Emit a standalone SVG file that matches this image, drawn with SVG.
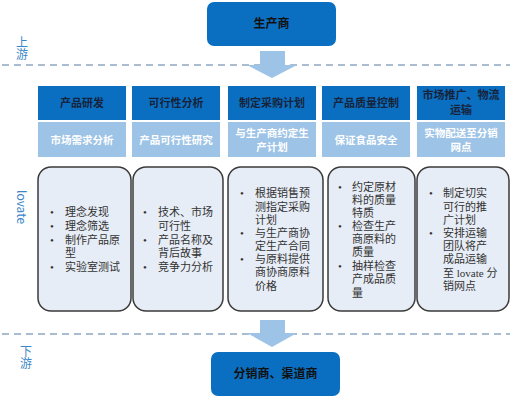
<svg xmlns="http://www.w3.org/2000/svg" width="512" height="403" viewBox="0 0 512 403">
<style>
.main{fill:#0b6fc1}
.hdr{fill:#0b6fc1}
.sub{fill:#9dc3e6}
.card{fill:#e7edf6;stroke:#3a3a3a;stroke-width:1.5}
.ht{font-family:"Noto Sans CJK SC","Liberation Sans",sans-serif;font-weight:bold;font-size:11px;fill:#16233a;text-anchor:middle}
.st{font-family:"Noto Sans CJK SC","Liberation Sans",sans-serif;font-weight:bold;font-size:10.5px;fill:#ffffff;text-anchor:middle}
.mt{font-family:"Noto Sans CJK SC","Liberation Sans",sans-serif;font-weight:bold;font-size:12px;fill:#111111;text-anchor:middle}
.bt{font-family:"Liberation Serif","Noto Sans CJK SC",serif;font-size:11px;fill:#333333}
.side{font-family:"Noto Sans CJK SC","Liberation Sans",sans-serif;font-size:12px;fill:#3a86c8}
.vert{writing-mode:vertical-rl}
.dash{stroke:#8ea6c0;stroke-width:1.5;stroke-dasharray:7,5;fill:none}
.arr{fill:#9dc3e6}
</style>
<g id="side-labels">
<text class="side vert" x="22" y="36">上游</text>
<text class="side vert" x="26" y="345">下游</text>
<text class="side" transform="translate(17,190) rotate(90)" font-family="Liberation Sans,sans-serif" font-size="13">lovate</text>
</g>
<g id="connectors">
<line class="dash" x1="2" y1="65" x2="510" y2="65"/>
<line class="dash" x1="2" y1="334" x2="510" y2="334"/>
<polygon class="arr" points="260,51 285,51 285,65 297,65 272,78 247,65 260,65"/>
<polygon class="arr" points="260,320 285,320 285,333 297,333 272,347 247,333 260,333"/>
</g>
<g id="producer">
<rect class="main" x="207" y="2" width="129" height="44" rx="7"/>
<text class="mt" x="271.5" y="28">生产商</text>
</g>
<g id="distributor">
<rect class="main" x="211" y="352" width="129" height="44" rx="7"/>
<text class="mt" x="275.5" y="378">分销商、渠道商</text>
</g>
<g id="col1">
<rect class="hdr" x="38" y="86" width="88" height="34"/>
<text class="ht" x="82" y="107">产品研发</text>
<rect class="sub" x="38" y="122" width="88" height="35"/>
<text class="st" x="82" y="144">市场需求分析</text>
<rect class="card" x="38" y="167" width="93" height="144" rx="13"/>
<text class="bt"><tspan x="50" y="216">•</tspan><tspan x="65" y="216">理念发现</tspan><tspan x="50" y="230">•</tspan><tspan x="65" y="230">理念筛选</tspan><tspan x="50" y="244">•</tspan><tspan x="65" y="244">制作产品原</tspan><tspan x="65" y="257">型</tspan><tspan x="50" y="271">•</tspan><tspan x="65" y="271">实验室测试</tspan></text>
</g>
<g id="col2">
<rect class="hdr" x="132" y="86" width="88" height="34"/>
<text class="ht" x="176" y="107">可行性分析</text>
<rect class="sub" x="132" y="122" width="88" height="35"/>
<text class="st" x="176" y="144">产品可行性研究</text>
<rect class="card" x="133" y="167" width="90" height="144" rx="13"/>
<text class="bt"><tspan x="143" y="216">•</tspan><tspan x="158" y="216">技术、市场</tspan><tspan x="158" y="230">可行性</tspan><tspan x="143" y="244">•</tspan><tspan x="158" y="244">产品名称及</tspan><tspan x="158" y="257">背后故事</tspan><tspan x="143" y="271">•</tspan><tspan x="158" y="271">竞争力分析</tspan></text>
</g>
<g id="col3">
<rect class="hdr" x="228" y="86" width="88" height="34"/>
<text class="ht" x="272" y="107">制定采购计划</text>
<rect class="sub" x="228" y="122" width="88" height="35"/>
<text class="st" x="272" y="137">与生产商约定生</text>
<text class="st" x="272" y="151">产计划</text>
<rect class="card" x="228" y="167" width="95" height="144" rx="13"/>
<text class="bt"><tspan x="240" y="197">•</tspan><tspan x="255" y="197">根据销售预</tspan><tspan x="255" y="211">测指定采购</tspan><tspan x="255" y="224">计划</tspan><tspan x="240" y="237">•</tspan><tspan x="255" y="237">与生产商协</tspan><tspan x="255" y="250">定生产合同</tspan><tspan x="240" y="263">•</tspan><tspan x="255" y="263">与原料提供</tspan><tspan x="255" y="276">商协商原料</tspan><tspan x="255" y="290">价格</tspan></text>
</g>
<g id="col4">
<rect class="hdr" x="322" y="86" width="88" height="34"/>
<text class="ht" x="366" y="107">产品质量控制</text>
<rect class="sub" x="322" y="122" width="88" height="35"/>
<text class="st" x="366" y="144">保证食品安全</text>
<rect class="card" x="328" y="167" width="87" height="144" rx="13"/>
<text class="bt"><tspan x="338" y="191">•</tspan><tspan x="352" y="191">约定原材</tspan><tspan x="352" y="204">料的质量</tspan><tspan x="352" y="217">特质</tspan><tspan x="338" y="230">•</tspan><tspan x="352" y="230">检查生产</tspan><tspan x="352" y="243">商原料的</tspan><tspan x="352" y="256">质量</tspan><tspan x="338" y="270">•</tspan><tspan x="352" y="270">抽样检查</tspan><tspan x="352" y="283">产成品质</tspan><tspan x="352" y="297">量</tspan></text>
</g>
<g id="col5">
<rect class="hdr" x="417" y="86" width="88" height="34"/>
<text class="ht" x="461" y="99">市场推广、物流</text>
<text class="ht" x="461" y="114">运输</text>
<rect class="sub" x="417" y="122" width="88" height="35"/>
<text class="st" x="461" y="137">实物配送至分销</text>
<text class="st" x="461" y="151">网点</text>
<rect class="card" x="417" y="167" width="92" height="144" rx="13"/>
<text class="bt"><tspan x="429" y="197">•</tspan><tspan x="443" y="197">制定切实</tspan><tspan x="443" y="211">可行的推</tspan><tspan x="443" y="224">广计划</tspan><tspan x="429" y="237">•</tspan><tspan x="443" y="237">安排运输</tspan><tspan x="443" y="250">团队将产</tspan><tspan x="443" y="263">成品运输</tspan><tspan x="443" y="277">至 lovate 分</tspan><tspan x="443" y="290">销网点</tspan></text>
</g>
</svg>
